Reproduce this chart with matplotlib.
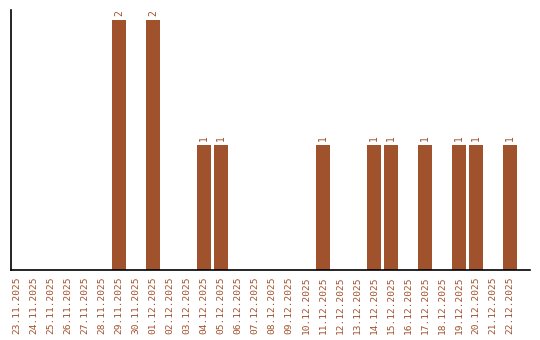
import matplotlib
matplotlib.use("Agg")
import matplotlib.pyplot as plt

# data
dates = ["23.11.2025", "24.11.2025", "25.11.2025", "26.11.2025", "27.11.2025",
         "28.11.2025", "29.11.2025", "30.11.2025", "01.12.2025", "02.12.2025",
         "03.12.2025", "04.12.2025", "05.12.2025", "06.12.2025", "07.12.2025",
         "08.12.2025", "09.12.2025", "10.12.2025", "11.12.2025", "12.12.2025",
         "13.12.2025", "14.12.2025", "15.12.2025", "16.12.2025", "17.12.2025",
         "18.12.2025", "19.12.2025", "20.12.2025", "21.12.2025", "22.12.2025"]
counts = [0, 0, 0, 0, 0, 0, 2, 0, 2, 0,
          0, 1, 1, 0, 0, 0, 0, 0, 1, 0,
          0, 1, 1, 0, 1, 0, 1, 1, 0, 1]

COLOR = "#A0522D"

fig = plt.figure(figsize=(5.4, 3.4), dpi=100)
ax = fig.add_axes([11 / 540, 70 / 340, 519 / 540, 260 / 340])

xs = list(range(len(dates)))
ax.bar(xs, counts, width=0.82, color=COLOR)

for x, c in zip(xs, counts):
    if c > 0:
        ax.text(x, c + 0.03, str(c), rotation=90, ha="center", va="bottom",
                color=COLOR, fontsize=7, family="DejaVu Sans Mono")

ax.set_xlim(-0.35, 30.18)
ax.set_ylim(0, 2.08)
ax.set_xticks(xs)
ax.set_xticklabels(dates, rotation=90, color=COLOR, fontsize=6.8,
                   family="DejaVu Sans Mono")
ax.tick_params(axis="x", length=0, pad=5)
ax.set_yticks([])

ax.spines["top"].set_visible(False)
ax.spines["right"].set_visible(False)
ax.spines["left"].set_linewidth(1.2)
ax.spines["bottom"].set_linewidth(1.2)

fig.savefig("out.png", dpi=100)
